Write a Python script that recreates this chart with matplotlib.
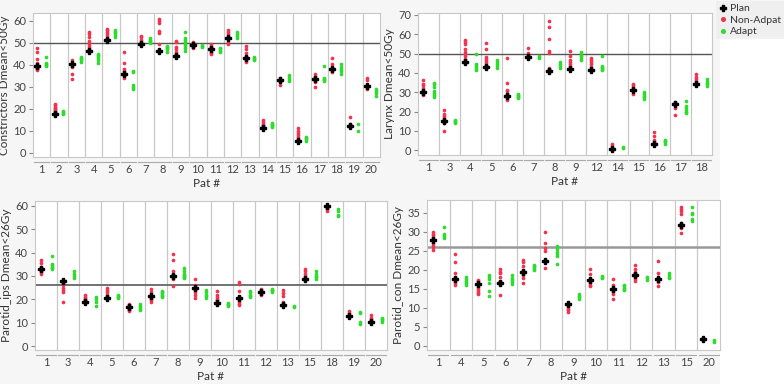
import matplotlib.pyplot as plt
from matplotlib.patches import Rectangle
import matplotlib.transforms as mtransforms

plt.rcParams['font.family'] = ['Lato', 'DejaVu Sans']

# ---- Constrictors ----
con_pats = [1, 2, 3, 4, 5, 6, 7, 8, 9, 10, 11, 12, 13, 14, 15, 16, 17, 18, 19, 20]
con_plan = [39.5, 17.5, 40.5, 46.5, 51.5, 36, 49.5, 46.5, 44, 49, 47, 52, 43, 11, 33, 5.5, 33.5, 38, 12, 30.5]
con_nonad = [
    [37.5, 38, 38.5, 39, 40, 41, 42.5, 46, 47.5],
    [17.5, 18, 18.5, 19, 19.5, 20, 20.5, 21, 21.5, 22],
    [33.5, 36, 39, 40, 41, 42],
    [47, 48, 49, 50, 51, 52.5, 54, 55],
    [52, 53, 54, 55, 56, 56.5],
    [34, 35, 37, 38, 41, 46],
    [49.5, 50.5, 51.5, 52.5, 53],
    [46.5, 49.5, 54.5, 55.5, 59, 60, 61],
    [43.5, 44.5, 45, 46, 47, 48, 50.5, 51],
    [47.5, 48, 48.5, 49.5, 50, 50.5],
    [45, 45.5, 46, 47, 48, 48.5, 49.5],
    [49.5, 50.5, 52, 53, 54, 55, 56],
    [41.5, 42, 43, 44, 45.5, 47, 48.5],
    [11, 12, 12.5, 13, 14, 15],
    [31, 32, 33, 34],
    [6, 7, 8, 9, 10, 11],
    [30, 32, 33, 34, 35, 36],
    [36.5, 37.5, 39, 40.5, 43],
    [12.5, 13, 16],
    [29, 30, 31, 33, 34],
]
con_adapt = [
    [39.5, 40, 40.5, 41, 43.5],
    [17.5, 18, 18.5, 19],
    [41.5, 42, 42.5, 43, 43.5],
    [41, 42, 43, 44, 44.5, 45],
    [52.5, 53.5, 54.5, 55, 56],
    [29, 30, 31, 36.5, 37],
    [50, 50.5, 51, 51.5, 52],
    [46, 47, 47.5, 48, 48.5],
    [46.5, 47.5, 48.5, 49.5, 50.5, 51.5, 52, 55],
    [48, 48.5, 49],
    [46, 46.5, 47, 47.5],
    [52, 53, 54, 55],
    [42, 42.5, 43, 43.5],
    [11.5, 12, 12.5, 13, 13.5],
    [32.5, 33.5, 34.5, 35.5],
    [5.5, 6, 6.5, 7],
    [32.5, 33, 33.5, 34, 39.5],
    [36, 37, 38, 39, 40.5],
    [10, 13],
    [26, 27, 28, 29],
]

# ---- Larynx ----
lar_pats = [1, 3, 4, 5, 6, 7, 8, 9, 12, 14, 15, 16, 17, 18]
lar_plan = [30, 15, 45.5, 43, 28, 48, 41, 42, 41.5, 0.5, 31, 3, 24, 34.5]
lar_nonad = [
    [28.5, 29.5, 31, 32, 33.5, 34.5, 36.5],
    [10, 14, 15.5, 16.5, 17.5, 18.5, 21],
    [46, 47, 48.5, 50, 51, 52.5, 55, 56, 57],
    [43.5, 44, 45, 46, 47, 48, 52.5, 55.5],
    [26, 27, 28.5, 29.5, 30.5, 31, 35, 47.5],
    [48.5, 49.5, 50.5, 53],
    [42, 42.5, 50.5, 51.5, 57.5, 64, 67],
    [42.5, 43.5, 44.5, 45.5, 46.5, 48.5, 51.5],
    [42, 43, 44.5, 45.5, 46.5, 47.5],
    [1, 2, 3],
    [29, 30.5, 31.5, 32.5, 33.5, 34.5],
    [3, 4, 5.5, 7.5, 9.5],
    [18, 22, 23.5, 25],
    [35, 36, 37, 38, 39.5],
]
lar_adapt = [
    [27.5, 28.5, 29.5, 30.5, 32.5, 34, 35],
    [14, 14.5, 15, 15.5],
    [41.5, 42, 43, 44, 44.5, 50],
    [42.5, 43.5, 44.5, 45.5, 46.5],
    [27, 27.5, 28, 28.5, 29],
    [47.5, 48.5],
    [42.5, 43.5, 44.5, 45.5],
    [46.5, 47.5, 48.5, 49.5, 51],
    [41.5, 42, 42.5, 43, 43.5, 48.5],
    [1, 1.5],
    [26.5, 27.5, 28, 29, 30],
    [3, 4, 5, 5.5],
    [19, 20, 21, 22, 23, 25.5],
    [33, 34, 35, 36, 37],
]

# ---- Parotid ipsilateral ----
ips_pats = [1, 3, 4, 5, 6, 7, 8, 9, 10, 11, 12, 13, 15, 18, 19, 20]
ips_plan = [33, 28, 19, 20.5, 16.5, 21.5, 30, 25, 18.5, 20.5, 23, 17.5, 28.5, 60, 13, 10.5]
ips_nonad = [
    [31, 31.5, 32, 33, 34, 35.5, 37],
    [19, 23, 24, 25, 26, 27],
    [19.5, 20, 20.5, 21, 22],
    [21, 22, 23, 24, 25],
    [15, 15.5, 16, 17, 17.5, 18],
    [19, 19.5, 20, 21, 22, 23, 24.5],
    [25.5, 28.5, 30, 31, 32, 37, 39.5],
    [20.5, 22, 23, 24, 26, 28.5],
    [18, 19, 19.5, 20, 21, 22, 23.5],
    [17.5, 18, 19, 20, 21, 23.5, 26.5, 27.5],
    [22, 23, 24, 24.5],
    [18, 19, 21.5, 22.5, 24],
    [29, 30, 31, 32, 33],
    [58, 58.5, 59, 60],
    [13.5, 14, 15],
    [10.5, 11, 11.5, 12, 13.5],
]
ips_adapt = [
    [33, 33.5, 34, 34.5, 35, 38.5],
    [29, 30, 31, 32],
    [17, 19, 20, 21],
    [20.5, 21, 21.5, 22],
    [15.5, 16, 16.5, 17, 18],
    [21, 21.5, 22, 22.5, 23, 23.5],
    [29, 29.5, 30, 30.5, 31, 32, 33.5],
    [20.5, 21.5, 22, 23, 24],
    [17, 17.5, 18, 18.5],
    [21, 21.5, 22, 23, 23.5],
    [23, 23.5, 24, 24.5],
    [16.5, 17],
    [28.5, 29.5, 30, 31, 32],
    [55.5, 56, 58, 58.5],
    [9.5, 10.5, 14, 14.5],
    [10.5, 11, 11.5, 12],
]

# ---- Parotid contralateral ----
ctl_pats = [1, 4, 5, 6, 7, 8, 9, 10, 11, 12, 13, 15, 20]
ctl_plan = [27.8, 17.5, 16.3, 16.5, 19.4, 22.3, 10.9, 17.2, 14.9, 18.6, 17.6, 31.8, 1.8]
ctl_nonad = [
    [25.2, 26, 26.5, 27, 28, 28.5, 29, 29.5, 30],
    [16, 16.5, 17, 18, 19, 22, 24.2],
    [13.5, 14, 14.5, 15, 15.5, 16.5, 17, 17.3],
    [13.4, 17, 18, 19, 19.5, 20.3],
    [16.5, 17.8, 18.5, 19, 20, 21, 22, 22.6],
    [20.5, 25, 25.7, 27, 29.8],
    [8.8, 9.3, 9.8, 10.3, 10.8, 11.3],
    [15.6, 16, 16.5, 17, 17.5, 18.8, 20.1],
    [12.3, 13.6, 14.2, 15.3, 16, 17.5],
    [17, 17.5, 18, 19, 19.5, 20.2, 21.1],
    [15.6, 16.7, 17.5, 18, 19, 22.2],
    [29.7, 31, 31.4, 32.3, 34.6, 35.3, 36, 36.5],
    [2.0, 2.1],
]
ctl_adapt = [
    [28.3, 28.8, 29.3, 31.2],
    [16, 16.5, 17, 17.5, 18],
    [13, 14.3, 16.5, 17.5, 18, 18.5],
    [16.3, 16.8, 17.3, 17.8, 18.6],
    [19.8, 20.2, 20.6, 21, 21.3],
    [21.5, 23.7, 24.2, 24.7, 25.3, 26.3],
    [12.3, 12.7, 13.1, 13.5],
    [17.7, 18, 18.3],
    [14.7, 15, 15.3, 15.7, 16],
    [17.2, 17.7, 18.2],
    [17.8, 18.2, 18.6, 19],
    [32.7, 33.2, 34.5, 35, 36.5],
    [1.1, 1.4],
]

RED = '#f2334f'
GREEN = '#2ddc2d'
GRID = '#c8c8c8'
TXT = '#444444'

fig = plt.figure(figsize=(7.84, 3.84), dpi=100, facecolor='#f6f6f6')
# white area right of the plots, below the legend
fig.patches.append(Rectangle((720 / 784, 0), 64 / 784, 1 - 37 / 384, transform=fig.transFigure,
                             facecolor='white', edgecolor='none', zorder=-1))


def panel(rect, pats, plan, nonad, adapt, ylabel, ylim, yticks, ref, reflw, refcol):
    ax = fig.add_axes(rect)
    ax.set_facecolor('white')
    n = len(pats)
    for i in range(n):
        ax.scatter([i - 0.25] * len(nonad[i]), nonad[i], s=7, color=RED, zorder=3, linewidths=0)
        ax.scatter([i + 0.25] * len(adapt[i]), adapt[i], s=7, color=GREEN, zorder=3, linewidths=0)
    ax.plot([i - 0.25 for i in range(n)], plan, 'P', color='black', ms=4.5, zorder=4, linestyle='none')
    for i in range(n - 1):
        ax.axvline(i + 0.5, color=GRID, lw=0.9, zorder=1)
    ax.axhline(ref, color=refcol, lw=reflw, zorder=2)
    ax.set_xlim(-0.5, n - 0.5)
    ax.set_ylim(*ylim)
    ax.set_yticks(yticks)
    ax.set_xticks(range(n))
    ax.set_xticklabels([str(p) for p in pats])
    ax.tick_params(axis='x', length=0, pad=5, labelsize=8, labelcolor=TXT)
    ax.tick_params(axis='y', length=3, color='#888888', labelsize=8, labelcolor=TXT, pad=2)
    for s in ax.spines.values():
        s.set_color(GRID)
    ax.set_ylabel(ylabel, fontsize=8.5, color='#333333', labelpad=2)
    ax.set_xlabel('Pat #', fontsize=8.5, color='#333333', labelpad=2)
    # category brackets under the axis
    tr = mtransforms.blended_transform_factory(ax.transData, ax.transAxes)
    for i in range(n):
        ax.plot([i - 0.45, i + 0.45], [-0.035, -0.035], color='#aaaaaa', lw=0.8,
                transform=tr, clip_on=False)
    return ax


panel([33 / 784, 1 - 157 / 384, 347 / 784, 144 / 384], con_pats, con_plan, con_nonad, con_adapt,
      'Constrictors Dmean<50Gy', (-2, 63.6), range(0, 61, 10), 50, 1.0, '#555555')
panel([418 / 784, 1 - 155 / 384, 294 / 784, 142 / 384], lar_pats, lar_plan, lar_nonad, lar_adapt,
      'Larynx Dmean<50Gy', (-2.5, 71), range(0, 71, 10), 50, 1.0, '#555555')
panel([35 / 784, 1 - 350 / 384, 352 / 784, 149 / 384], ips_pats, ips_plan, ips_nonad, ips_adapt,
      'Parotid_ips Dmean<26Gy', (-1.7, 62.1), range(0, 61, 10), 26, 1.3, '#666666')
panel([427 / 784, 1 - 350 / 384, 293 / 784, 150 / 384], ctl_pats, ctl_plan, ctl_nonad, ctl_adapt,
      'Parotid_con Dmean<26Gy', (-1.1, 38.3), range(0, 36, 5), 26, 1.8, '#999999')

# legend
h1 = plt.Line2D([], [], marker='P', color='black', ls='none', ms=4.5)
h2 = plt.Line2D([], [], marker='o', color=RED, ls='none', ms=2.6)
h3 = plt.Line2D([], [], marker='o', color=GREEN, ls='none', ms=2.6)
leg = fig.legend([h1, h2, h3], ['Plan', 'Non-Adpat', 'Adapt'], loc='upper left',
                 bbox_to_anchor=(715 / 784, 1.0), frameon=True, fontsize=7.5,
                 handletextpad=0.3, labelspacing=0.2, borderpad=0.3, handlelength=0.7,
                 borderaxespad=0.1)
leg.get_frame().set_facecolor('#eeeeee')
leg.get_frame().set_edgecolor('none')
leg.get_frame().set_boxstyle('square', pad=0)
for t in leg.get_texts():
    t.set_color('#333333')

fig.savefig('out.png', dpi=100, facecolor=fig.get_facecolor())
